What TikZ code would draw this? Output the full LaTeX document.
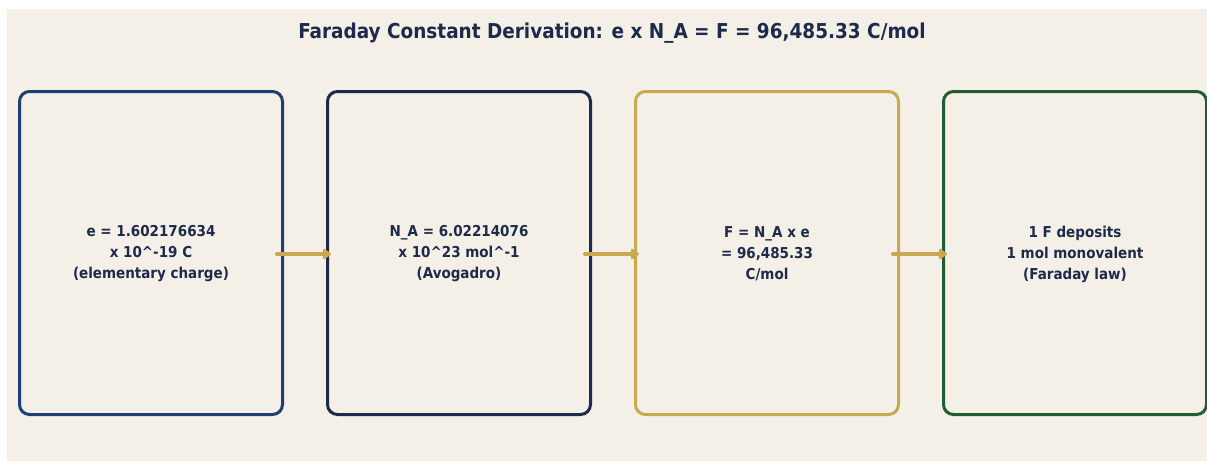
\documentclass[tikz,border=0pt]{standalone}
\usepackage{fontspec}
\setmainfont{DejaVu Sans Condensed}
\usetikzlibrary{arrows.meta}
\definecolor{bgc}{HTML}{F4F0E8}
\definecolor{navy}{HTML}{1E2A4A}
\definecolor{bluec}{HTML}{1F3F73}
\definecolor{goldc}{HTML}{C9A84F}
\definecolor{greenc}{HTML}{1E5E30}
\tikzset{
  card/.style={draw=#1, line width=3pt, rounded corners=10pt, fill=bgc,
    minimum width=263pt, minimum height=323pt, inner sep=0pt, anchor=north west},
  lbl/.style={text=navy, font=\bfseries\fontsize{15}{21}\selectfont, align=center},
  flow/.style={draw=goldc, line width=4pt, line cap=round, -{Triangle[length=9pt,width=12pt,round]}},
}
\begin{document}
\begin{tikzpicture}[x=1pt,y=-1pt]
\useasboundingbox (0,0) rectangle (1207,461);
\fill[white] (0,0) rectangle (1207,461);
\fill[bgc] (7,9) rectangle (1207,461);
\node[text=navy, font=\bfseries\fontsize{20.5}{25}\selectfont] (title) at (612,33) {Faraday Constant Derivation: e x N\_A = F = 96,485.33 C/mol};
\node[card=bluec] (b1) at (18,90) {};
\node[card=navy] (b2) at (326,90) {};
\node[card=goldc] (b3) at (634,90) {};
\node[card=greenc] (b4) at (942,90) {};
\node[lbl] (t1) at ([yshift=-1pt]b1.center) {e = 1.602176634\\x 10\^{}-19 C\\(elementary charge)};
\node[lbl] (t2) at ([yshift=-1pt]b2.center) {N\_A = 6.02214076\\x 10\^{}23 mol\^{}-1\\(Avogadro)};
\node[lbl] (t3) at ([yshift=-1pt]b3.center) {F = N\_A x e\\= 96,485.33\\C/mol};
\node[lbl] (t4) at ([yshift=-1pt]b4.center) {1 F deposits\\1 mol monovalent\\(Faraday law)};
\draw[flow] ([xshift=-7pt,yshift=-1pt]b1.east) -- ([xshift=5pt,yshift=-1pt]b2.west);
\draw[flow] ([xshift=-7pt,yshift=-1pt]b2.east) -- ([xshift=5pt,yshift=-1pt]b3.west);
\draw[flow] ([xshift=-7pt,yshift=-1pt]b3.east) -- ([xshift=5pt,yshift=-1pt]b4.west);
\end{tikzpicture}
\end{document}
